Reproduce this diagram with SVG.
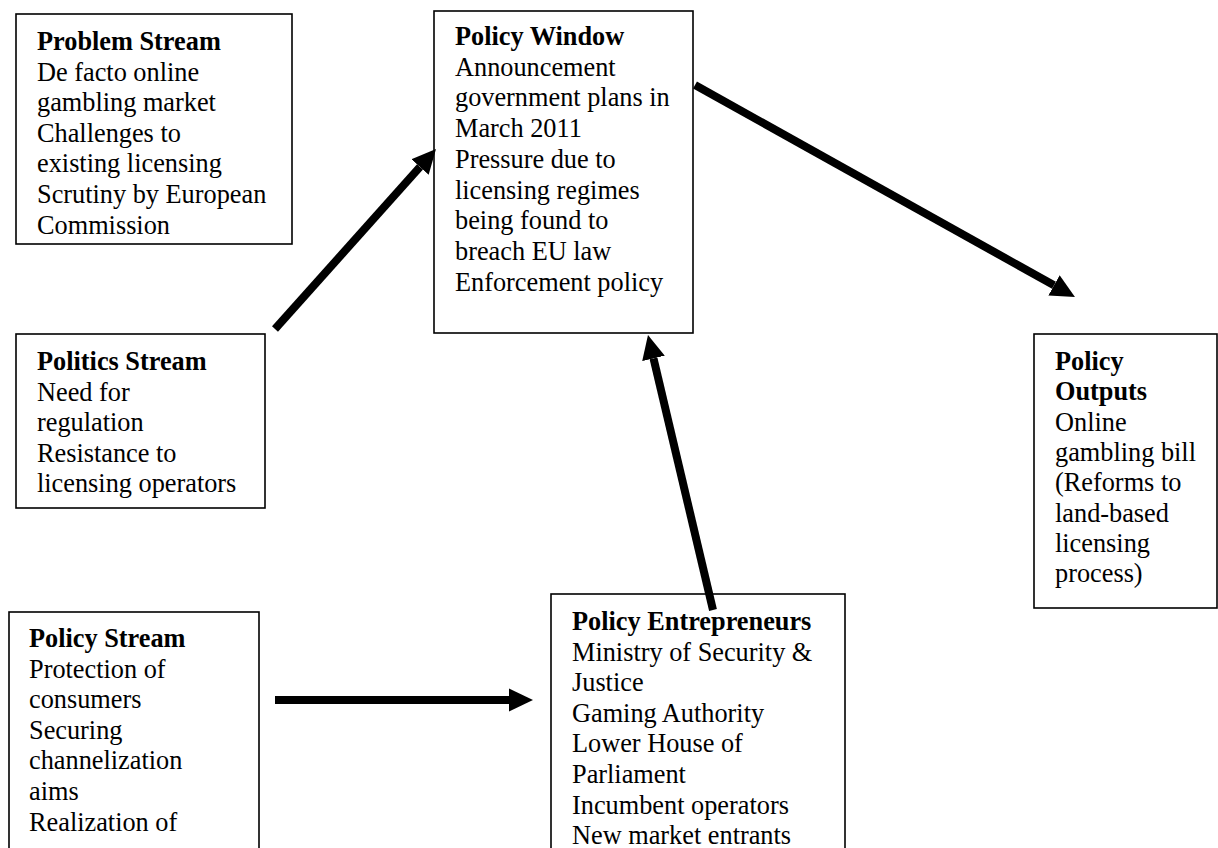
<svg xmlns="http://www.w3.org/2000/svg" width="1218" height="848" viewBox="0 0 1218 848">
<defs>
<style>
.box{fill:#fff;stroke:#000;stroke-width:1.6}
.t{font-family:"Liberation Serif","Times New Roman",serif;font-size:26.3px;fill:#000}
.b{font-weight:bold}
.c{stroke:#000;stroke-width:8;fill:none;marker-end:url(#ah)}
</style>
<marker id="ah" markerUnits="strokeWidth" viewBox="0 0 3 2.9" refX="0" refY="1.45" markerWidth="3" markerHeight="2.9" orient="auto">
<path d="M0,0 L3,1.45 L0,2.9 z" fill="#000"/>
</marker>
</defs>
<rect width="1218" height="848" fill="#fff"/>
<g id="problem-stream">
<rect class="box" x="16" y="14" width="276" height="230"/>
<text class="t" x="37" y="50"><tspan class="b">Problem Stream</tspan><tspan x="37" dy="30.6">De facto online</tspan><tspan x="37" dy="30.6">gambling market</tspan><tspan x="37" dy="30.6">Challenges to</tspan><tspan x="37" dy="30.6">existing licensing</tspan><tspan x="37" dy="30.6">Scrutiny by European</tspan><tspan x="37" dy="30.6">Commission</tspan></text>
</g>
<g id="policy-window">
<rect class="box" x="434" y="11" width="259" height="322"/>
<text class="t" x="455" y="45"><tspan class="b">Policy Window</tspan><tspan x="455" dy="30.7">Announcement</tspan><tspan x="455" dy="30.7">government plans in</tspan><tspan x="455" dy="30.7">March 2011</tspan><tspan x="455" dy="30.7">Pressure due to</tspan><tspan x="455" dy="30.7">licensing regimes</tspan><tspan x="455" dy="30.7">being found to</tspan><tspan x="455" dy="30.7">breach EU law</tspan><tspan x="455" dy="30.7">Enforcement policy</tspan></text>
</g>
<g id="politics-stream">
<rect class="box" x="16" y="334" width="249" height="174"/>
<text class="t" x="37" y="370"><tspan class="b">Politics Stream</tspan><tspan x="37" dy="30.6">Need for</tspan><tspan x="37" dy="30.6">regulation</tspan><tspan x="37" dy="30.6">Resistance to</tspan><tspan x="37" dy="30.6">licensing operators</tspan></text>
</g>
<g id="policy-outputs">
<rect class="box" x="1034" y="334" width="183" height="274"/>
<text class="t" x="1055" y="370"><tspan class="b">Policy</tspan><tspan class="b" x="1055" dy="30.3">Outputs</tspan><tspan x="1055" dy="30.3">Online</tspan><tspan x="1055" dy="30.3">gambling bill</tspan><tspan x="1055" dy="30.3">(Reforms to</tspan><tspan x="1055" dy="30.3">land-based</tspan><tspan x="1055" dy="30.3">licensing</tspan><tspan x="1055" dy="30.3">process)</tspan></text>
</g>
<g id="policy-stream">
<rect class="box" x="9" y="612" width="250" height="260"/>
<text class="t" x="29" y="647"><tspan class="b">Policy Stream</tspan><tspan x="29" dy="30.6">Protection of</tspan><tspan x="29" dy="30.6">consumers</tspan><tspan x="29" dy="30.6">Securing</tspan><tspan x="29" dy="30.6">channelization</tspan><tspan x="29" dy="30.6">aims</tspan><tspan x="29" dy="30.6">Realization of</tspan></text>
</g>
<g id="policy-entrepreneurs">
<rect class="box" x="551" y="594" width="294" height="280"/>
<text class="t" x="572" y="630"><tspan class="b">Policy Entrepreneurs</tspan><tspan x="572" dy="30.6">Ministry of Security &amp;</tspan><tspan x="572" dy="30.6">Justice</tspan><tspan x="572" dy="30.6">Gaming Authority</tspan><tspan x="572" dy="30.6">Lower House of</tspan><tspan x="572" dy="30.6">Parliament</tspan><tspan x="572" dy="30.6">Incumbent operators</tspan><tspan x="572" dy="30.6">New market entrants</tspan></text>
</g>
<g id="connectors">
<line class="c" x1="275" y1="329" x2="420" y2="166.9"/>
<line class="c" x1="695" y1="85" x2="1054" y2="285.3"/>
<line class="c" x1="275" y1="700" x2="509" y2="700"/>
<line class="c" x1="713" y1="610" x2="653.5" y2="358.4"/>
</g>
</svg>
